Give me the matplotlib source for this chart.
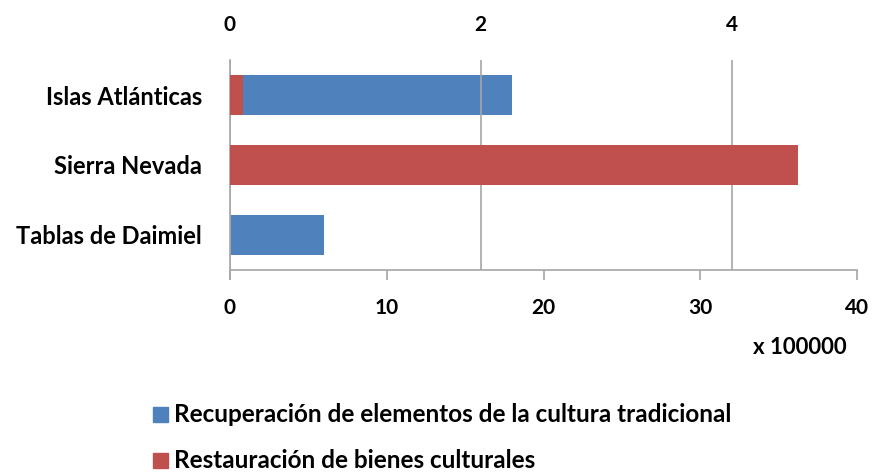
import matplotlib
matplotlib.use("Agg")
import matplotlib.pyplot as plt
from matplotlib.patches import Rectangle
import numpy as np

# Data
categories = ["Islas Atlánticas", "Sierra Nevada", "Tablas de Daimiel"]
recuperacion = [18.0, 0.0, 6.0]        # bottom axis, x 100000
restauracion = [0.1, 4.53, 0.0]        # top (secondary) axis
series_names = ["Recuperación de elementos de la cultura tradicional",
                "Restauración de bienes culturales"]
bottom_ticks = [0, 10, 20, 30, 40]
top_ticks = [0, 2, 4]

blue = "#4F81BD"
red = "#C0504D"
grey = "#A6A6A6"

plt.rcParams["font.family"] = ["Lato", "DejaVu Sans"]
plt.rcParams["font.weight"] = "bold"

fig = plt.figure(figsize=(8.74, 4.72), dpi=100)
ax = fig.add_axes([230 / 874, 1 - 270 / 472, (857 - 230) / 874, 210 / 472])
ax2 = ax.twiny()

y = np.arange(len(categories))
h = 0.57

ax.barh(y, recuperacion, height=h, color=blue, zorder=2)
ax2.barh(y, restauracion, height=h, color=red, zorder=3)

ax.set_ylim(len(categories) - 0.5, -0.5)
ax.set_yticks(y)
ax.set_yticklabels(categories, fontsize=17, fontweight="bold")
ax.tick_params(axis="y", length=0, pad=20)

ax.set_xlim(0, 40)
ax.set_xticks(bottom_ticks)
ax.set_xticklabels([str(t) for t in bottom_ticks], fontsize=15, fontweight="bold")
ax.tick_params(axis="x", length=7, width=1.2, color=grey, pad=13)

ax2.set_xlim(0, 5)
ax2.set_xticks(top_ticks)
ax2.set_xticklabels([str(t) for t in top_ticks], fontsize=15, fontweight="bold")
ax2.tick_params(axis="x", length=0, pad=18)
ax2.xaxis.grid(True, color=grey, linewidth=1.2, zorder=0)
ax2.set_axisbelow(True)

for a in (ax, ax2):
    for s in ("top", "right"):
        a.spines[s].set_visible(False)
ax.spines["left"].set_color(grey)
ax.spines["left"].set_linewidth(1.2)
ax.spines["bottom"].set_color(grey)
ax.spines["bottom"].set_linewidth(1.2)
ax2.spines["left"].set_visible(False)
ax2.spines["bottom"].set_visible(False)

# Left spine extends slightly below the bottom axis
ax.spines["left"].set_bounds(len(categories) - 0.5 + 9 / 70, -0.5)
ax.spines["left"].set_clip_on(False)

fig.text(800 / 874, 1 - 347 / 472, "x 100000", fontsize=16, fontweight="bold",
         ha="center", va="center")

# Legend
for i, (name, col) in enumerate(zip(series_names, [blue, red])):
    yc = 1 - (414 + 46 * i) / 472
    fig.patches.append(Rectangle((153 / 874, yc - 7.5 / 472), 15 / 874, 15 / 472,
                                 transform=fig.transFigure, color=col))
    fig.text(174 / 874, yc, name, fontsize=17.5, fontweight="bold",
             ha="left", va="center")

fig.savefig("out.png", dpi=100)
